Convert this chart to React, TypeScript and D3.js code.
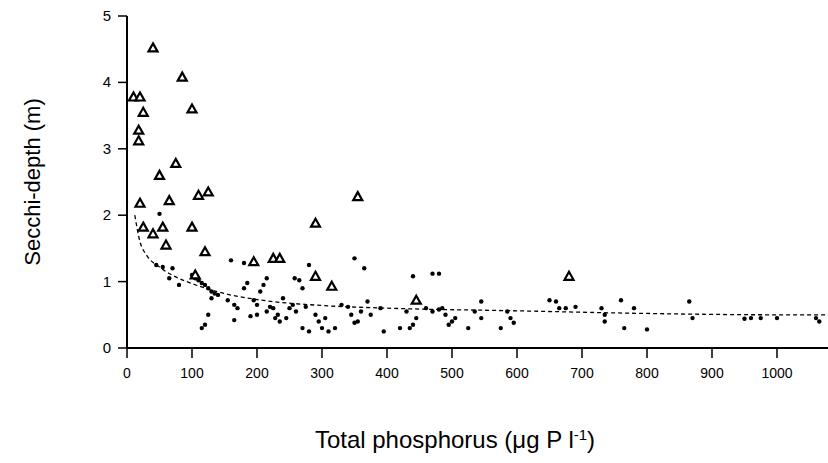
import React from 'react';
import * as d3 from 'd3';

// Lakes with submerged vegetation (triangles): [TP, Secchi]
const vegetated: [number, number][] = [
  [10, 3.78], [20, 3.78], [25, 3.55], [40, 4.52], [85, 4.08], [100, 3.6], [18, 3.28], [18, 3.12],
  [75, 2.78], [50, 2.6], [65, 2.22], [20, 2.18], [110, 2.3], [125, 2.35], [25, 1.82], [40, 1.72],
  [55, 1.82], [100, 1.82], [60, 1.55], [120, 1.45], [195, 1.3], [225, 1.35], [235, 1.35],
  [290, 1.88], [355, 2.28], [290, 1.08], [315, 0.93], [105, 1.1], [445, 0.72], [680, 1.08],
];

// Other lakes (dots)
const others: [number, number][] = [
  [50, 2.02], [45, 1.25], [55, 1.22], [70, 1.2], [65, 1.05], [80, 0.95], [100, 1.1], [105, 1.05],
  [110, 1.02], [115, 0.98], [120, 0.95], [125, 0.9], [130, 0.85], [135, 0.82], [140, 0.8], [130, 0.75],
  [125, 0.5], [120, 0.35], [115, 0.3], [155, 0.72], [160, 1.32], [165, 0.65], [170, 0.6], [165, 0.42],
  [180, 0.9], [185, 0.98], [180, 1.28], [195, 0.72], [200, 0.65], [205, 0.85], [210, 0.95], [200, 0.5],
  [190, 0.48], [215, 0.55], [215, 1.05], [220, 0.62], [225, 0.6], [228, 0.45], [232, 0.5], [235, 0.4],
  [240, 0.75], [245, 0.45], [250, 0.6], [255, 0.65], [258, 1.05], [260, 0.55], [265, 1.02], [270, 0.9],
  [275, 0.62], [270, 0.3], [280, 0.25], [280, 1.25], [290, 0.5], [295, 0.4], [300, 0.3], [305, 0.45],
  [310, 0.25], [320, 0.3], [330, 0.65], [340, 0.62], [345, 0.5], [350, 0.38], [355, 0.4], [350, 1.35],
  [365, 1.2], [360, 0.55], [370, 0.7], [375, 0.5], [395, 0.25], [390, 0.6], [430, 0.55], [420, 0.3],
  [440, 0.35], [435, 0.3], [445, 0.45], [460, 0.6], [470, 0.55], [480, 0.58], [485, 0.6], [490, 0.5],
  [495, 0.35], [500, 0.4], [505, 0.45], [525, 0.3], [545, 0.7], [545, 0.45], [585, 0.55], [590, 0.45],
  [575, 0.3], [595, 0.38], [440, 1.08], [470, 1.12], [480, 1.12], [650, 0.72], [660, 0.7], [665, 0.6],
  [675, 0.6], [690, 0.62], [730, 0.6], [735, 0.5], [735, 0.4], [760, 0.72], [765, 0.3], [780, 0.6],
  [800, 0.28], [865, 0.7], [870, 0.45], [950, 0.44], [960, 0.45], [975, 0.45], [1000, 0.45],
  [1060, 0.45], [1065, 0.4], [535, 0.55],
];

// Fitted curve
const fit: [number, number][] = [
  [12, 2.0], [20, 1.6], [30, 1.4], [50, 1.22], [75, 1.07], [100, 0.97], [150, 0.82], [200, 0.73],
  [300, 0.64], [400, 0.6], [600, 0.56], [800, 0.52], [1000, 0.5], [1080, 0.5],
];

const xTicks = [0, 100, 200, 300, 400, 500, 600, 700, 800, 900, 1000];
const yTicks = [0, 1, 2, 3, 4, 5];

export default function App() {
  const W = 828, H = 463;
  const x = d3.scaleLinear().domain([0, 1000]).range([127, 777]);
  const y = d3.scaleLinear().domain([0, 5]).range([348, 16]);
  const line = d3.line<[number, number]>().x(d => x(d[0])).y(d => y(d[1])).curve(d3.curveMonotoneX);
  const font = "'Liberation Sans', Arial, sans-serif";
  const tri = (cx: number, cy: number) => `M${cx},${cy - 4.5}L${cx + 4.5},${cy + 3.5}L${cx - 4.5},${cy + 3.5}Z`;
  return (
    <svg width={W} height={H} style={{ position: 'absolute', left: 0, top: 0, background: '#fff' }} fontFamily={font}>
      <line x1={x(0)} x2={W} y1={y(0)} y2={y(0)} stroke="#000" strokeWidth={2} />
      <line x1={x(0)} x2={x(0)} y1={y(5)} y2={y(0)} stroke="#000" strokeWidth={2} />
      {xTicks.map(t => (
        <g key={t}>
          <line x1={x(t)} x2={x(t)} y1={y(0)} y2={y(0) + 10} stroke="#000" strokeWidth={1.5} />
          <text x={x(t)} y={y(0) + 30} fontSize={14} textAnchor="middle">{t}</text>
        </g>
      ))}
      {yTicks.map(t => (
        <g key={t}>
          <line x1={x(0) - 9} x2={x(0)} y1={y(t)} y2={y(t)} stroke="#000" strokeWidth={1.5} />
          <text x={x(0) - 16} y={y(t) + 5} fontSize={15} textAnchor="end">{t}</text>
        </g>
      ))}
      <path d={line(fit) ?? ''} fill="none" stroke="#000" strokeWidth={1.3} strokeDasharray="4,3" />
      {others.map((d, i) => (
        <circle key={i} cx={x(d[0])} cy={y(d[1])} r={2.2} fill="#000" />
      ))}
      {vegetated.map((d, i) => (
        <path key={i} d={tri(x(d[0]), y(d[1]))} fill="#fff" stroke="#000" strokeWidth={2.2} />
      ))}
      <text transform={`translate(40,${y(2.5)}) rotate(-90)`} fontSize={22} textAnchor="middle">Secchi-depth (m)</text>
      <text x={455} y={448} fontSize={24} textAnchor="middle">
        Total phosphorus (μg P l<tspan baselineShift="super" fontSize={15}>-1</tspan>)
      </text>
    </svg>
  );
}
